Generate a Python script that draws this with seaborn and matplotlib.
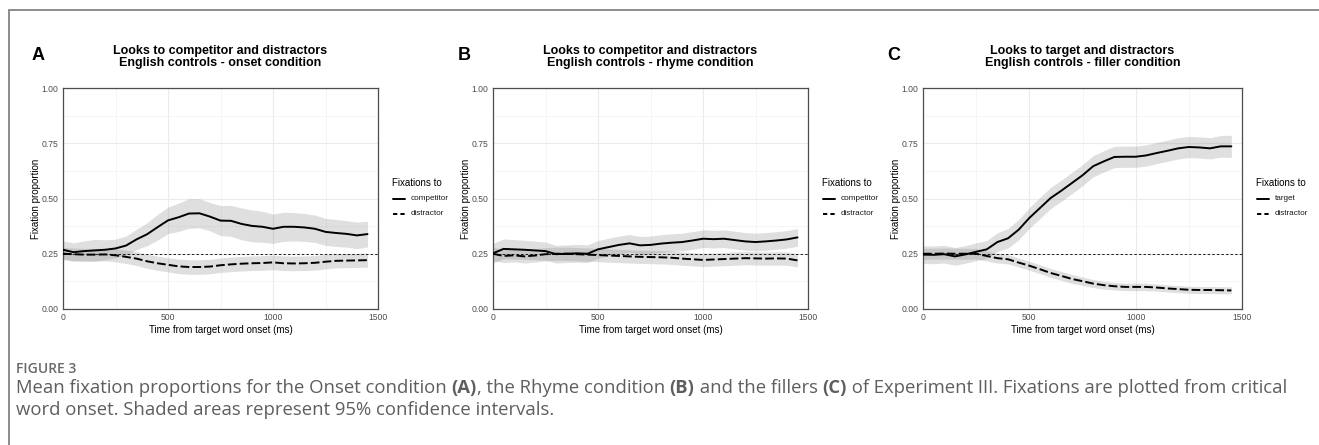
import matplotlib
matplotlib.use("Agg")
import numpy as np
import pandas as pd
import matplotlib.pyplot as plt
import seaborn as sns
from matplotlib.lines import Line2D

# ---------------- data ----------------
time_ms = [0, 50, 100, 150, 200, 250, 300, 350, 400, 450, 500, 550, 600, 650, 700,
           750, 800, 850, 900, 950, 1000, 1050, 1100, 1150, 1200, 1250, 1300, 1350, 1400, 1450]

onset_competitor = [0.268, 0.257, 0.262, 0.265, 0.268, 0.274, 0.287, 0.315, 0.338, 0.370,
                    0.401, 0.415, 0.432, 0.433, 0.418, 0.400, 0.399, 0.385, 0.376, 0.372,
                    0.363, 0.372, 0.372, 0.369, 0.363, 0.349, 0.344, 0.340, 0.333, 0.339]
onset_competitor_ci = [0.040, 0.042, 0.046, 0.050, 0.045, 0.042, 0.043, 0.046, 0.052, 0.058,
                       0.060, 0.064, 0.067, 0.066, 0.064, 0.068, 0.070, 0.072, 0.072, 0.070,
                       0.066, 0.066, 0.064, 0.063, 0.062, 0.061, 0.061, 0.060, 0.060, 0.058]
onset_distractor = [0.250, 0.248, 0.246, 0.246, 0.247, 0.243, 0.236, 0.228, 0.216, 0.207,
                    0.200, 0.193, 0.190, 0.190, 0.192, 0.198, 0.202, 0.205, 0.207, 0.208,
                    0.211, 0.207, 0.206, 0.207, 0.209, 0.214, 0.218, 0.219, 0.220, 0.221]
onset_distractor_ci = [0.028, 0.028, 0.028, 0.028, 0.029, 0.030, 0.030, 0.031, 0.032, 0.032,
                       0.032, 0.033, 0.033, 0.033, 0.033, 0.033, 0.033, 0.033, 0.033, 0.033,
                       0.033, 0.033, 0.033, 0.033, 0.033, 0.033, 0.032, 0.032, 0.032, 0.032]

rhyme_competitor = [0.252, 0.272, 0.270, 0.268, 0.265, 0.262, 0.248, 0.250, 0.252, 0.250,
                    0.270, 0.280, 0.290, 0.297, 0.288, 0.290, 0.296, 0.300, 0.303, 0.310,
                    0.318, 0.316, 0.318, 0.312, 0.306, 0.303, 0.306, 0.310, 0.315, 0.324]
rhyme_competitor_ci = [0.045, 0.045, 0.044, 0.043, 0.042, 0.041, 0.040, 0.040, 0.040, 0.040,
                       0.040, 0.040, 0.040, 0.040, 0.040, 0.040, 0.040, 0.040, 0.040, 0.040,
                       0.040, 0.040, 0.040, 0.040, 0.040, 0.040, 0.040, 0.040, 0.040, 0.040]
rhyme_distractor = [0.250, 0.240, 0.243, 0.238, 0.242, 0.248, 0.250, 0.250, 0.248, 0.246,
                    0.244, 0.242, 0.240, 0.238, 0.236, 0.235, 0.234, 0.232, 0.228, 0.225,
                    0.222, 0.224, 0.226, 0.228, 0.230, 0.229, 0.228, 0.229, 0.228, 0.220]
rhyme_distractor_ci = [0.030, 0.030, 0.030, 0.030, 0.030, 0.030, 0.030, 0.030, 0.030, 0.030,
                       0.030, 0.030, 0.030, 0.030, 0.030, 0.030, 0.030, 0.030, 0.030, 0.030,
                       0.030, 0.030, 0.030, 0.030, 0.030, 0.030, 0.030, 0.030, 0.030, 0.030]

filler_target = [0.246, 0.245, 0.248, 0.238, 0.247, 0.259, 0.270, 0.303, 0.320, 0.359,
                 0.412, 0.457, 0.502, 0.535, 0.570, 0.605, 0.646, 0.668, 0.688, 0.689,
                 0.689, 0.695, 0.706, 0.716, 0.727, 0.733, 0.731, 0.727, 0.736, 0.736]
filler_target_ci = [0.040, 0.040, 0.040, 0.040, 0.040, 0.040, 0.040, 0.042, 0.044, 0.046,
                    0.047, 0.048, 0.048, 0.048, 0.048, 0.048, 0.048, 0.048, 0.048, 0.048,
                    0.048, 0.048, 0.048, 0.048, 0.048, 0.048, 0.048, 0.048, 0.049, 0.050]
filler_distractor = [0.250, 0.250, 0.251, 0.250, 0.250, 0.250, 0.240, 0.230, 0.225, 0.210,
                     0.196, 0.180, 0.163, 0.150, 0.136, 0.126, 0.115, 0.108, 0.103, 0.100,
                     0.100, 0.100, 0.097, 0.093, 0.090, 0.087, 0.086, 0.086, 0.085, 0.084]
filler_distractor_ci = [0.025, 0.025, 0.025, 0.025, 0.025, 0.024, 0.023, 0.022, 0.021, 0.020,
                        0.020, 0.020, 0.020, 0.020, 0.020, 0.019, 0.018, 0.018, 0.017, 0.017,
                        0.017, 0.017, 0.016, 0.016, 0.016, 0.016, 0.016, 0.016, 0.016, 0.016]

panel_letters = ["A", "B", "C"]
panel_titles = ["Looks to competitor and distractors\nEnglish controls - onset condition",
                "Looks to competitor and distractors\nEnglish controls - rhyme condition",
                "Looks to target and distractors\nEnglish controls - filler condition"]
legend_labels = [["competitor", "distractor"], ["competitor", "distractor"], ["target", "distractor"]]
x_ticks = [0, 500, 1000, 1500]
y_ticks = [0.00, 0.25, 0.50, 0.75, 1.00]
y_tick_labels = ["0.00", "0.25", "0.50", "0.75", "1.00"]
chance_level = 0.25
x_label = "Time from target word onset (ms)"
y_label = "Fixation proportion"
legend_title = "Fixations to"
caption_head = "FIGURE 3"
caption_line1 = [("Mean fixation proportions for the Onset condition ", False), ("(A)", True),
                 (", the Rhyme condition ", False), ("(B)", True),
                 (" and the fillers ", False), ("(C)", True),
                 (" of Experiment III. Fixations are plotted from critical", False)]
caption_line2 = [("word onset. Shaded areas represent 95% confidence intervals.", False)]

panels = [
    (onset_competitor, onset_competitor_ci, onset_distractor, onset_distractor_ci),
    (rhyme_competitor, rhyme_competitor_ci, rhyme_distractor, rhyme_distractor_ci),
    (filler_target, filler_target_ci, filler_distractor, filler_distractor_ci),
]

# ---------------- style ----------------
sns.set_theme(style="white")
plt.rcParams['font.family'] = ['Liberation Sans', 'DejaVu Sans']

W, H = 1319, 445
fig = plt.figure(figsize=(W / 100, H / 100), dpi=100)
fig.patch.set_facecolor("white")

def fx(px):
    return px / W

def fy(py):
    return 1 - py / H

# outer frame (top + left)
fig.add_artist(Line2D([fx(9), fx(1319)], [fy(10), fy(10)], transform=fig.transFigure,
                      color="#8c8c8c", lw=1.4))
fig.add_artist(Line2D([fx(9), fx(9)], [fy(10), fy(445)], transform=fig.transFigure,
                      color="#8c8c8c", lw=1.4))

axes_px = [(63, 378), (493, 808), (923, 1242)]
ax_top, ax_bot = 88, 309
legend_x = [392, 822, 1256]
letter_x = [32, 458, 887]
ylabel_x = [36, 466, 896]

for i, (l, r) in enumerate(axes_px):
    ax = fig.add_axes([fx(l), fy(ax_bot), (r - l) / W, (ax_bot - ax_top) / H])
    main, main_ci, dist, dist_ci = panels[i]
    lab_main, lab_dist = legend_labels[i]
    df = pd.DataFrame({
        "time": time_ms * 2,
        "prop": list(main) + list(dist),
        "series": [lab_main] * len(time_ms) + [lab_dist] * len(time_ms),
    })
    # confidence bands
    for vals, ci in ((main, main_ci), (dist, dist_ci)):
        v = np.array(vals)
        c = np.array(ci)
        ax.fill_between(time_ms, v - c, v + c, color="grey", alpha=0.25, lw=0, zorder=2)
    ax.axhline(chance_level, color="black", lw=0.6, ls=(0, (3, 2.5)), zorder=3)
    sns.lineplot(data=df, x="time", y="prop", hue="series", style="series",
                 palette={lab_main: "black", lab_dist: "black"},
                 dashes={lab_main: "", lab_dist: (4.5, 1.6)},
                 linewidth=1.4, legend=False, ax=ax, zorder=4)

    ax.set_xlim(0, 1500)
    ax.set_ylim(0, 1)
    ax.set_xticks(x_ticks)
    ax.set_xticklabels([str(t) for t in x_ticks])
    ax.set_yticks(y_ticks)
    ax.set_yticklabels(y_tick_labels)
    ax.set_xticks([250, 750, 1250], minor=True)
    ax.set_yticks([0.125, 0.375, 0.625, 0.875], minor=True)
    ax.grid(which="major", color="#EBEBEB", lw=0.8, zorder=0)
    ax.grid(which="minor", color="#F2F2F2", lw=0.5, zorder=0)
    ax.set_axisbelow(True)
    for sp in ax.spines.values():
        sp.set_color("#4d4d4d")
        sp.set_linewidth(0.9)
    ax.tick_params(axis="both", which="major", length=2.0, width=0.6, color="#4d4d4d",
                   labelsize=6.2, labelcolor="#4D4D4D", pad=1.2)
    ax.tick_params(axis="both", which="minor", length=0)
    ax.set_xlabel(x_label, fontsize=7, color="black", labelpad=1.5)
    ax.set_ylabel("")
    fig.text(fx(ylabel_x[i]), fy((ax_top + ax_bot) / 2), y_label, rotation=90,
             fontsize=7, ha="center", va="center", color="black")

    # title and panel letter
    fig.text(fx((l + r) / 2), fy(57), panel_titles[i], ha="center", va="center",
             fontsize=9, fontweight="bold", linespacing=1.02, color="black")
    fig.text(fx(letter_x[i]), fy(55), panel_letters[i], ha="left", va="center",
             fontsize=13, fontweight="bold", color="black")

    # legend (ggplot style)
    lx = legend_x[i]
    fig.text(fx(lx), fy(183), legend_title, fontsize=7, ha="left", va="center", color="black")
    for j, (lab, dash) in enumerate(((lab_main, None), (lab_dist, (2.2, 1.6)))):
        yy = 199 + 14.5 * j
        line = Line2D([fx(lx + 1), fx(lx + 13)], [fy(yy), fy(yy)], transform=fig.transFigure,
                      color="black", lw=1.4)
        if dash is not None:
            line.set_dashes(dash)
        fig.add_artist(line)
        fig.text(fx(lx + 19), fy(yy), lab, fontsize=5.9, ha="left", va="center", color="#1a1a1a")

# ---------------- caption ----------------
cap_font = ["Open Sans", "DejaVu Sans"]
cap_color = "#5e5e5e"
fig.text(fx(16), fy(373), caption_head, fontsize=10, color="#6a6a6a", family=cap_font,
         fontweight="semibold", ha="left", va="baseline")

renderer = fig.canvas.get_renderer()

def rich_line(parts, x_px, base_px, size):
    x = x_px
    for txt, bold in parts:
        t = fig.text(fx(x), fy(base_px), txt, fontsize=size, color=cap_color, family=cap_font,
                     fontweight="bold" if bold else "normal", ha="left", va="baseline")
        bb = t.get_window_extent(renderer=renderer)
        x += bb.width

rich_line(caption_line1, 16, 393, 13.3)
rich_line(caption_line2, 16, 415, 13.3)

fig.savefig("out.png", dpi=100, facecolor="white")
